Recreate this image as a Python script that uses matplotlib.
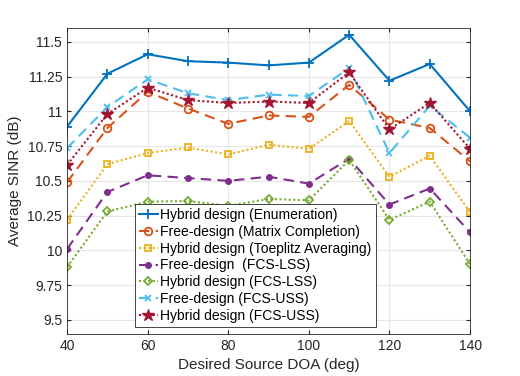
import matplotlib
matplotlib.use("Agg")
import matplotlib.pyplot as plt

plt.rcParams['font.family'] = ['Liberation Sans', 'DejaVu Sans']

doa = [40, 50, 60, 70, 80, 90, 100, 110, 120, 130, 140]

enum_hybrid = [10.89, 11.27, 11.41, 11.36, 11.35, 11.33, 11.35, 11.55, 11.22, 11.34, 11.00]
mc_free = [10.49, 10.88, 11.14, 11.02, 10.91, 10.97, 10.96, 11.19, 10.94, 10.88, 10.64]
toep_hybrid = [10.22, 10.62, 10.70, 10.74, 10.69, 10.76, 10.73, 10.93, 10.53, 10.68, 10.275]
lss_free = [10.01, 10.42, 10.54, 10.52, 10.50, 10.53, 10.48, 10.66, 10.33, 10.445, 10.13]
lss_hybrid = [9.88, 10.28, 10.35, 10.355, 10.32, 10.37, 10.36, 10.65, 10.22, 10.35, 9.90]
uss_free = [10.735, 11.03, 11.23, 11.13, 11.08, 11.12, 11.11, 11.31, 10.70, 11.04, 10.81]
uss_hybrid = [10.615, 10.98, 11.17, 11.08, 11.06, 11.07, 11.06, 11.28, 10.87, 11.06, 10.73]

labels = ["Hybrid design (Enumeration)",
          "Free-design (Matrix Completion)",
          "Hybrid design (Toeplitz Averaging)",
          "Free-design  (FCS-LSS)",
          "Hybrid design (FCS-LSS)",
          "Free-design (FCS-USS)",
          "Hybrid design (FCS-USS)"]

yticks = [9.5, 9.75, 10, 10.25, 10.5, 10.75, 11, 11.25, 11.5]
ytick_labels = ["9.5", "9.75", "10", "10.25", "10.5", "10.75", "11", "11.25", "11.5"]
xticks = [40, 60, 80, 100, 120, 140]

fig = plt.figure(figsize=(5.2, 3.76), dpi=100)
ax = fig.add_axes([0.129, 0.112, 0.775, 0.814])

lw = 1.5
ax.plot(doa, enum_hybrid, color="#0072BD", ls="-", lw=lw, marker="+", ms=6.5, mew=1.3, label=labels[0])
ax.plot(doa, mc_free, color="#D95319", ls=(0, (5, 3)), lw=lw, marker="o", ms=5.5, mfc="none", mew=1.3, label=labels[1])
ax.plot(doa, toep_hybrid, color="#EDB120", ls=(0, (1, 1.2)), lw=lw, marker="s", ms=5, mfc="none", mew=1.3, label=labels[2])
ax.plot(doa, lss_free, color="#7E2F8E", ls=(0, (5, 3)), lw=lw, marker="o", ms=4, label=labels[3])
ax.plot(doa, lss_hybrid, color="#77AC30", ls=(0, (1, 1.2)), lw=lw, marker="D", ms=4.5, mfc="none", mew=1.3, label=labels[4])
ax.plot(doa, uss_free, color="#4DBEEE", ls=(0, (5, 3)), lw=lw, marker="x", ms=4.5, mew=1.3, label=labels[5])
ax.plot(doa, uss_hybrid, color="#A2142F", ls=(0, (1, 1.2)), lw=lw, marker="*", ms=9, label=labels[6])

ax.set_xlim(40, 140)
ax.set_ylim(9.4, 11.6)
ax.set_xticks(xticks)
ax.set_yticks(yticks)
ax.set_yticklabels(ytick_labels)
ax.grid(True, color="#e6e6e6", lw=0.8)
ax.set_axisbelow(True)
ax.tick_params(direction="in", length=3, labelsize=10, colors="#262626",
               top=True, right=True, labelcolor="#262626")
for s in ax.spines.values():
    s.set_color("#262626")
    s.set_linewidth(0.6)
ax.set_xlabel("Desired Source DOA (deg)", fontsize=11, color="#262626")
ax.set_ylabel("Average SINR (dB)", fontsize=11, color="#262626")

leg = ax.legend(loc="lower left", bbox_to_anchor=(0.152, 0.0), fontsize=10,
                handlelength=1.3, handletextpad=0.2, labelspacing=0.2,
                borderpad=0.3, fancybox=False, framealpha=1, edgecolor="#262626")
leg.get_frame().set_linewidth(0.6)

fig.savefig("out.png", dpi=100)
